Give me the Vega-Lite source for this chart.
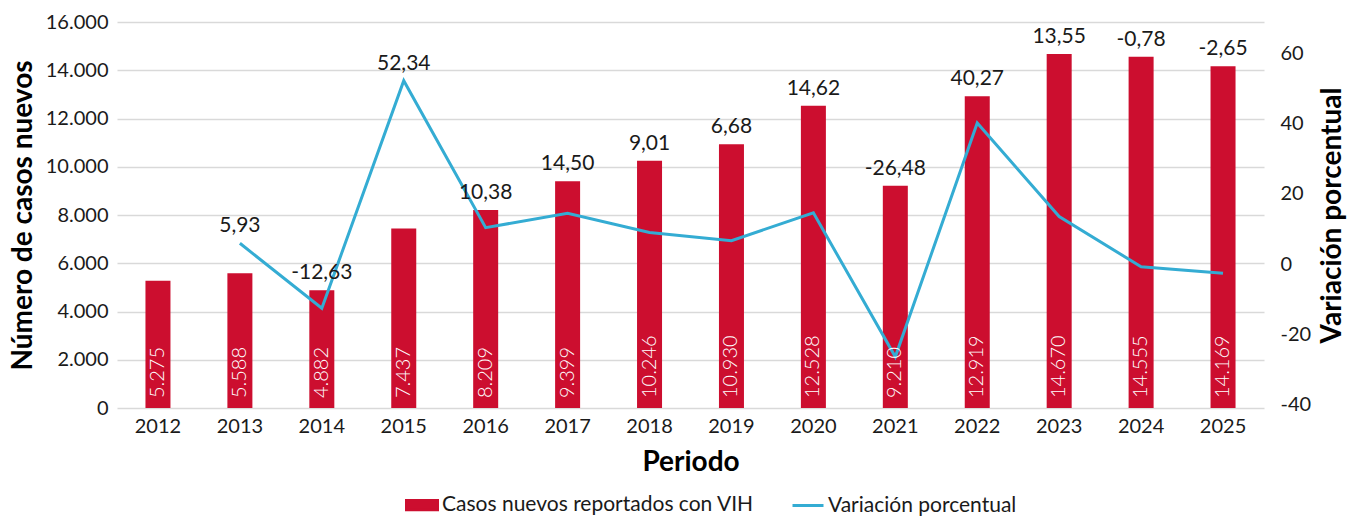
{
  "$schema": "https://vega.github.io/schema/vega-lite/v6.json",
  "width": 1147,
  "height": 386,
  "autosize": {"type": "none"},
  "padding": {"left": 117, "top": 22, "right": 92, "bottom": 110},
  "config": {
    "locale": {"number": {"decimal": ",", "thousands": ".", "grouping": [3], "currency": ["", ""], "minus": "-"}},
    "font": "Lato",
    "view": {"stroke": null},
    "axis": {"labelFont": "Lato", "titleFont": "Lato", "labelColor": "#1a1a1a", "titleColor": "#000000"}
  },
  "data": {
    "values": [
      {"periodo": "2012", "casos": 5275, "var": null},
      {"periodo": "2013", "casos": 5588, "var": 5.93},
      {"periodo": "2014", "casos": 4882, "var": -12.63},
      {"periodo": "2015", "casos": 7437, "var": 52.34},
      {"periodo": "2016", "casos": 8209, "var": 10.38},
      {"periodo": "2017", "casos": 9399, "var": 14.50},
      {"periodo": "2018", "casos": 10246, "var": 9.01},
      {"periodo": "2019", "casos": 10930, "var": 6.68},
      {"periodo": "2020", "casos": 12528, "var": 14.62},
      {"periodo": "2021", "casos": 9210, "var": -26.48},
      {"periodo": "2022", "casos": 12919, "var": 40.27},
      {"periodo": "2023", "casos": 14670, "var": 13.55},
      {"periodo": "2024", "casos": 14555, "var": -0.78},
      {"periodo": "2025", "casos": 14169, "var": -2.65}
    ]
  },
  "encoding": {
    "x": {
      "field": "periodo", "type": "ordinal",
      "scale": {"type": "band", "paddingInner": 0, "paddingOuter": 0},
      "axis": {
        "labelAngle": 0, "labelFontSize": 20, "labelPadding": 8, "ticks": false, "domain": false,
        "title": "Periodo", "titleFontSize": 28, "titleFontWeight": "bold", "titlePadding": 12
      }
    }
  },
  "layer": [
    {
      "mark": {"type": "bar", "size": 25},
      "encoding": {
        "y": {
          "field": "casos", "type": "quantitative",
          "scale": {"domain": [0, 16000], "nice": false},
          "axis": {
            "values": [0, 2000, 4000, 6000, 8000, 10000, 12000, 14000, 16000],
            "format": ",d", "labelFontSize": 20, "labelPadding": 9, "ticks": false, "domain": false,
            "gridColor": "#d9d9d9", "gridWidth": 1.5,
            "title": "Número de casos nuevos", "titleFontSize": 28, "titleFontWeight": "bold", "titlePadding": 8
          }
        },
        "color": {
          "datum": "Casos nuevos reportados con VIH",
          "scale": {"domain": ["Casos nuevos reportados con VIH", "Variación porcentual"], "range": ["#CC0E2F", "#34ACD3"]},
          "legend": {
            "title": null, "orient": "none", "legendX": 288, "legendY": 466, "direction": "horizontal",
            "labelFontSize": 21, "labelFont": "Lato", "labelColor": "#1a1a1a", "labelLimit": 400,
            "symbolSize": 961, "columnPadding": 32, "labelOffset": 3,
            "encode": {
              "symbols": {
                "update": {
                  "shape": {"signal": "datum.value === 'Variación porcentual' ? 'stroke' : 'M-1,-0.3H1V0.3H-1Z'"},
                  "strokeWidth": {"value": 3}
                }
              }
            }
          }
        }
      }
    },
    {
      "mark": {"type": "line", "strokeWidth": 3},
      "encoding": {
        "y": {
          "field": "var", "type": "quantitative",
          "scale": {"domain": [-41.1, 69.1], "nice": false, "zero": false},
          "axis": {
            "orient": "right", "values": [-40, -20, 0, 20, 40, 60], "grid": false,
            "labelFontSize": 20, "labelPadding": 16, "ticks": false, "domain": false,
            "title": "Variación porcentual", "titleFontSize": 28, "titleFontWeight": "bold",
            "titleAngle": 270, "titlePadding": 36
          }
        },
        "color": {"datum": "Variación porcentual"}
      }
    },
    {
      "mark": {"type": "text", "angle": 270, "align": "left", "baseline": "middle", "dx": 10, "color": "#ffffff", "fontSize": 20, "fontWeight": 300},
      "encoding": {
        "y": {"datum": 0, "type": "quantitative", "scale": {"domain": [0, 16000], "nice": false}, "axis": null},
        "text": {"field": "casos", "type": "quantitative", "format": ",d"}
      }
    },
    {
      "transform": [
        {"filter": "datum['var'] != null"},
        {"calculate": "max(datum.casos, (datum['var'] + 41.1) / 110.2 * 16000)", "as": "labelY"}
      ],
      "mark": {"type": "text", "baseline": "bottom", "dy": -7, "color": "#1a1a1a", "fontSize": 21},
      "encoding": {
        "y": {"field": "labelY", "type": "quantitative", "scale": {"domain": [0, 16000], "nice": false}, "axis": null},
        "text": {"field": "var", "type": "quantitative", "format": ".2f"}
      }
    }
  ],
  "resolve": {"scale": {"y": "independent"}}
}
